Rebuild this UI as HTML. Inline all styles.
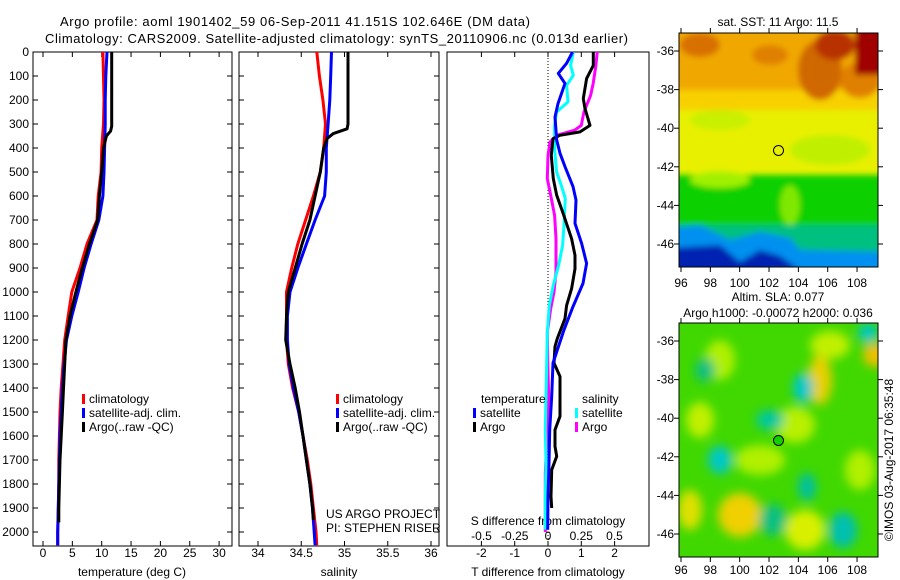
<!DOCTYPE html>
<html><head><meta charset="utf-8"><style>
body{margin:0;background:#fff;}
svg{display:block;font-family:"Liberation Sans",sans-serif;}
text{font-size:12px;fill:#000;}
</style></head><body>
<svg id="chart" width="900" height="580" viewBox="0 0 900 580" xmlns="http://www.w3.org/2000/svg">
<defs>
<filter id="bl" x="-20%" y="-20%" width="140%" height="140%"><feGaussianBlur stdDeviation="5"/></filter>
<filter id="bl2" x="-20%" y="-20%" width="140%" height="140%"><feGaussianBlur stdDeviation="3"/></filter>
<clipPath id="c1"><rect x="679" y="33" width="199" height="234"/></clipPath>
<clipPath id="c2"><rect x="679" y="323" width="199" height="234"/></clipPath>
</defs>
<text x="60" y="26" style="font-size:13px" textLength="470">Argo profile: aoml 1901402_59 06-Sep-2011 41.151S 102.646E (DM data)</text>
<text x="45" y="43" style="font-size:13px" textLength="583">Climatology: CARS2009. Satellite-adjusted climatology: synTS_20110906.nc (0.013d earlier)</text>

<g clip-path="url(#c1)">
<rect x="679" y="33" width="199" height="234" fill="#e8f000"/>
<g filter="url(#bl2)">
<rect x="670" y="25" width="220" height="70" fill="#f0a800"/>
<rect x="670" y="90" width="220" height="20" fill="#f8d000"/>
<ellipse cx="700" cy="45" rx="20" ry="12" fill="#d87000"/>
<ellipse cx="770" cy="55" rx="18" ry="10" fill="#e08000"/>
<ellipse cx="820" cy="70" rx="22" ry="30" fill="#d06800"/>
<ellipse cx="860" cy="80" rx="20" ry="18" fill="#e08000"/>
<rect x="855" y="25" width="40" height="50" fill="#a00000"/>
<ellipse cx="835" cy="45" rx="20" ry="15" fill="#b83000"/>
<ellipse cx="720" cy="120" rx="30" ry="10" fill="#c8f000"/>
<ellipse cx="830" cy="150" rx="40" ry="15" fill="#c0f000"/>
<rect x="670" y="175" width="220" height="60" fill="#10d000"/>
<ellipse cx="720" cy="180" rx="30" ry="8" fill="#a0f000"/>
<ellipse cx="790" cy="205" rx="10" ry="20" fill="#80e800"/>
<rect x="670" y="225" width="220" height="50" fill="#00c080"/>
<path d="M670 228 L700 225 L730 240 L760 232 L790 238 L800 250 L890 252 L890 280 L670 280Z" fill="#0090f0"/>
<path d="M670 248 L720 245 L740 262 L760 250 L780 256 L800 270 L670 275Z" fill="#0020b0"/>
</g>
</g>
<rect x="679" y="33" width="199" height="234" fill="none" stroke="#000"/>
<text x="778" y="26" text-anchor="middle">sat. SST: 11 Argo: 11.5</text>

<g clip-path="url(#c2)">
<rect x="679" y="323" width="199" height="234" fill="#40d800"/>
<g filter="url(#bl)">
<ellipse cx="720" cy="360" rx="15" ry="20" fill="#b0f000"/>
<ellipse cx="830" cy="345" rx="20" ry="14" fill="#c0f000"/>
<ellipse cx="875" cy="355" rx="12" ry="12" fill="#f0c000"/>
<ellipse cx="820" cy="380" rx="12" ry="25" fill="#e8d000"/>
<ellipse cx="700" cy="420" rx="14" ry="18" fill="#c0f000"/>
<ellipse cx="795" cy="425" rx="20" ry="18" fill="#b8f000"/>
<ellipse cx="760" cy="460" rx="25" ry="15" fill="#b0f000"/>
<ellipse cx="740" cy="515" rx="22" ry="22" fill="#f0d000"/>
<ellipse cx="690" cy="510" rx="12" ry="20" fill="#e0e000"/>
<ellipse cx="805" cy="530" rx="20" ry="20" fill="#d8f000"/>
<ellipse cx="860" cy="470" rx="15" ry="20" fill="#b0f000"/>
<ellipse cx="720" cy="460" rx="12" ry="14" fill="#00c8c8"/>
<ellipse cx="770" cy="420" rx="14" ry="10" fill="#00c8a0"/>
<ellipse cx="803" cy="388" rx="10" ry="15" fill="#00c8c8"/>
<ellipse cx="807" cy="487" rx="9" ry="14" fill="#00c0a0"/>
<ellipse cx="843" cy="530" rx="14" ry="18" fill="#00c0b0"/>
<ellipse cx="868" cy="333" rx="10" ry="10" fill="#00c8c0"/>
<ellipse cx="773" cy="520" rx="14" ry="16" fill="#10c080"/>
<ellipse cx="705" cy="370" rx="10" ry="12" fill="#10c080"/>
</g>
</g>
<rect x="679" y="323" width="199" height="234" fill="none" stroke="#000"/>
<text x="778" y="301" text-anchor="middle">Altim. SLA: 0.077</text>
<text x="778" y="317" text-anchor="middle">Argo h1000: -0.00072 h2000: 0.036</text>
<text transform="translate(893,460) rotate(-90)" text-anchor="middle">©IMOS 03-Aug-2017 06:35:48</text>
<circle cx="778.5" cy="150.5" r="5" fill="none" stroke="#000"/>
<circle cx="778.5" cy="440.5" r="5" fill="#10d000" stroke="#000"/>
<g id="dyn"></g>
</svg>
<script>
const depthsTC=[0,100,200,300,400,500,600,700,800,900,1000,1100,1200,1300,1400,1500,1600,1700,1800,1900,2000,2055];
const tempClim=[10.2,10.3,10.4,10.3,10.0,9.9,9.4,9.2,7.5,6.3,4.9,4.3,3.7,3.4,3.1,2.9,2.8,2.7,2.7,2.6,2.5,2.5];
const tempSat=[10.9,10.7,10.6,10.6,10.5,10.4,10.2,9.5,8.2,7.0,6.0,4.9,4.0,3.6,3.3,3.1,2.9,2.8,2.7,2.6,2.5,2.5];
const depthsA=[0,310,330,350,400,500,600,700,800,900,1000,1100,1200,1300,1400,1500,1600,1700,1800,1900,1960];
const tempArgo=[11.7,11.7,11.5,10.8,10.3,10.0,9.6,9.3,7.9,6.7,5.6,4.6,3.9,3.7,3.5,3.3,3.1,2.9,2.8,2.7,2.7];
const salClim=[34.68,34.71,34.75,34.78,34.76,34.72,34.64,34.55,34.46,34.39,34.33,34.33,34.33,34.35,34.40,34.47,34.52,34.57,34.61,34.64,34.67,34.68];
const salSat=[34.85,34.84,34.83,34.81,34.79,34.79,34.77,34.66,34.56,34.46,34.37,34.34,34.34,34.36,34.41,34.47,34.52,34.56,34.60,34.63,34.65,34.66];
const depthsSA=[0,300,320,340,360,400,500,600,700,800,900,1000,1100,1200,1300,1400,1500,1600,1700,1800,1900,1950];
const salArgo=[35.04,35.04,35.03,34.87,34.80,34.76,34.72,34.66,34.60,34.51,34.43,34.35,34.33,34.32,34.37,34.43,34.48,34.52,34.56,34.60,34.63,34.64];
const depthsDT=[0,47,89,131,215,271,367,422,478,561,617,714,797,881,964,1061,1158,1296,1435,1574,1713,1852,1990];
const dTsat=[0.74,0.56,0.31,0.51,0.30,0.21,0.26,0.36,0.51,0.75,0.84,0.81,1.01,1.16,1.05,0.75,0.48,0.15,0.11,0.05,0.03,0.0,-0.01];
const depthsDTA=[0,56,111,194,236,306,333,347,361,431,528,597,667,778,847,903,986,1056,1111,1194,1227,1296,1352,1435,1518,1574,1643,1685,1741,1852,1900];
const dTargo=[1.36,1.36,1.16,1.06,1.11,1.26,0.96,0.36,0.15,0.10,0.16,0.26,0.44,0.71,0.81,0.81,0.71,0.56,0.51,0.28,0.21,0.18,0.36,0.36,0.36,0.21,0.21,0.26,0.11,0.09,0.11];
const depthsDS=[0,56,97,139,208,250,306,403,500,556,611,722,806,889,972,1056,1167,1300,1435,1574,1713,1852,1990];
const dSsat=[0.19,0.17,0.19,0.14,0.15,0.065,0.05,0.05,0.065,0.10,0.13,0.12,0.11,0.08,0.04,0.01,-0.005,-0.01,-0.015,-0.02,-0.015,-0.02,-0.02];
const depthsDSA=[0,56,131,181,250,306,326,347,375,431,528,597,681,778,917,1000,1069,1167,1338,1435,1574,1755,2000];
const dSargo=[0.37,0.36,0.34,0.32,0.27,0.25,0.20,0.065,0.015,0.0,-0.005,0.02,0.05,0.06,0.06,0.045,0.02,-0.005,0.0,0.005,-0.005,-0.02,-0.02];
const depthTicks=[0,100,200,300,400,500,600,700,800,900,1000,1100,1200,1300,1400,1500,1600,1700,1800,1900,2000];
const tempTicks=[0,5,10,15,20,25,30];
const salTicks=[34,34.5,35,35.5,36];
const dTTicks=[-2,-1,0,1,2];
const dSTicks=[-0.5,-0.25,0,0.25,0.5];
const latTicks=[-36,-38,-40,-42,-44,-46];
const lonTicks=[96,98,100,102,104,106,108];

const NS='http://www.w3.org/2000/svg';
const g=document.getElementById('dyn');
function el(tag,attrs,txt){const e=document.createElementNS(NS,tag);for(const k in attrs)e.setAttribute(k,attrs[k]);if(txt!==undefined)e.textContent=txt;g.appendChild(e);return e;}
const TOP=52,BOT=546;
const yD=d=>52+d*0.24;
const xT=t=>43+t*5.87;
const xS=s=>258+(s-34)*86.5;
const xDT=t=>548+t*33.3;
const xDS=s=>548+s*133;
const yLat1=l=>51+(-36-l)*19.3;
const yLat2=l=>341+(-36-l)*19.3;
const xLon=l=>681+(l-96)*14.67;

const panels=[[33,232],[239,439],[447,649]];
panels.forEach((p,i)=>{
  const r=el('rect',{x:p[0],y:TOP,width:p[1]-p[0],height:BOT-TOP,fill:'none',stroke:'#000'});
  
  
});
depthTicks.forEach(d=>{
  const t=el('text',{x:29,y:yD(d)+4,'text-anchor':'end'},String(d));
  
  
  [[33,38],[227,232],[434,439],[239,244]].forEach(s=>{
    const l=el('line',{x1:s[0],x2:s[1],y1:yD(d),y2:yD(d),stroke:'#000'});
    
    
  });
});
function xticks(vals,fx,y){vals.forEach(v=>{
  const x=fx(v);
  const a=el('line',{x1:x,x2:x,y1:TOP,y2:TOP+5,stroke:'#000'});
  
  
  const b=el('line',{x1:x,x2:x,y1:BOT-5,y2:BOT,stroke:'#000'});
  
  
  const t=el('text',{x:x,y:y,'text-anchor':'middle'},String(v));
  
  
});}
xticks(tempTicks,xT,557);
xticks(salTicks,xS,557);
xticks(dTTicks,xDT,557);
dSTicks.forEach(v=>{
  const t=el('text',{x:xDS(v),y:540,'text-anchor':'middle'},String(v));
  
  
});
[['temperature (deg C)',132,'x-axis-title-temperature'],['salinity',339,'x-axis-title-salinity'],['T difference from climatology',548,'x-axis-title-t-diff']].forEach(a=>{
  const t=el('text',{x:a[1],y:576,'text-anchor':'middle'},a[0]);
  
  
});
const st=el('text',{x:548,y:525,'text-anchor':'middle'},'S difference from climatology');


const zl=el('line',{x1:548,x2:548,y1:TOP,y2:BOT,stroke:'#000','stroke-dasharray':'1,2'});



function line(ds,vs,fx,color,name){
  const pts=ds.map((d,i)=>fx(vs[i]).toFixed(1)+','+yD(d).toFixed(1)).join(' ');
  const p=el('polyline',{points:pts,fill:'none',stroke:color,'stroke-width':3,'stroke-linejoin':'round'});
  
  
}
line(depthsTC,tempClim,xT,'#ff0000','temp-climatology-line');
line(depthsTC,tempSat,xT,'#0000ff','temp-satellite-line');
line(depthsA,tempArgo,xT,'#000','temp-argo-line');
line(depthsTC,salClim,xS,'#ff0000','sal-climatology-line');
line(depthsTC,salSat,xS,'#0000ff','sal-satellite-line');
line(depthsSA,salArgo,xS,'#000','sal-argo-line');
line(depthsDSA,dSargo,xDS,'#ff00ff','s-diff-argo-line');
line(depthsDS,dSsat,xDS,'#00ffff','s-diff-satellite-line');
line(depthsDTA,dTargo,xDT,'#000','t-diff-argo-line');
line(depthsDT,dTsat,xDT,'#0000ff','t-diff-satellite-line');

function legend(x,y,color,label){
  const r=el('rect',{x:x,y:y-9,width:3,height:10,fill:color});
  
  
  const t=el('text',{x:x+7,y:y},label);
  
  
}
[['#ff0000','climatology'],['#0000ff','satellite-adj. clim.'],['#000','Argo(..raw -QC)']].forEach((a,i)=>legend(82,403+i*14,a[0],a[1]));
[['#ff0000','climatology'],['#0000ff','satellite-adj. clim.'],['#000','Argo(..raw -QC)']].forEach((a,i)=>legend(336,403+i*14,a[0],a[1]));
legend(473,417,'#0000ff','satellite');
legend(473,431,'#000','Argo');
legend(575,417,'#00ffff','satellite');
legend(575,431,'#ff00ff','Argo');
const lt=el('text',{x:481,y:403},'temperature');


const ls=el('text',{x:582,y:403},'salinity');


const u1=el('text',{x:326,y:518},'US ARGO PROJECT');


const u2=el('text',{x:326,y:532},'PI: STEPHEN RISER');



[[yLat1,33,267,287],[yLat2,323,557,574]].forEach(m=>{
  latTicks.forEach(l=>{
    const y=m[0](l);
    const t=el('text',{x:674,y:y+4,'text-anchor':'end'},String(l));
    
    
    const a=el('line',{x1:674,x2:679,y1:y,y2:y,stroke:'#000'});
    
    
    const b=el('line',{x1:878,x2:883,y1:y,y2:y,stroke:'#000'});
    
    
  });
  lonTicks.forEach(l=>{
    const x=xLon(l);
    const t=el('text',{x:x,y:m[3],'text-anchor':'middle'},String(l));
    
    
    const a=el('line',{x1:x,x2:x,y1:m[1]-5,y2:m[1],stroke:'#000'});
    
    
    const b=el('line',{x1:x,x2:x,y1:m[2],y2:m[2]+5,stroke:'#000'});
    
    
  });
});
</script>
</body></html>
